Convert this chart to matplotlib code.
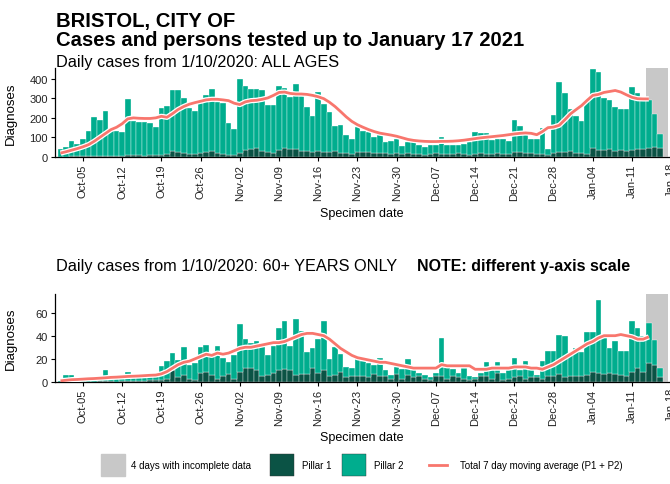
import numpy as np
import pandas as pd
import matplotlib
matplotlib.use("Agg")
import matplotlib.pyplot as plt
import matplotlib.patheffects as pe
from matplotlib.patches import Rectangle
from matplotlib.lines import Line2D

plt.rcParams['font.family'] = ['Liberation Sans', 'DejaVu Sans']

# ---------------- DATA ----------------
start_date = "2020-10-01"
n_days = 109
incomplete_days = 4

tick_dates = ["2020-10-05", "2020-10-12", "2020-10-19", "2020-10-26", "2020-11-02",
              "2020-11-09", "2020-11-16", "2020-11-23", "2020-11-30", "2020-12-07",
              "2020-12-14", "2020-12-21", "2020-12-28", "2021-01-04", "2021-01-11"]
tick_labels = ["Oct-05", "Oct-12", "Oct-19", "Oct-26", "Nov-02", "Nov-09", "Nov-16",
               "Nov-23", "Nov-30", "Dec-07", "Dec-14", "Dec-21", "Dec-28", "Jan-04", "Jan-11"]

# all ages
all_p1 = [2, 2, 3, 3, 3, 4, 5,
          5, 6, 5, 5, 6, 8, 8,
          8, 7, 8, 8, 12, 15, 32,
          28, 20, 15, 15, 18, 25, 30,
          18, 15, 12, 10, 22, 38, 42,
          45, 30, 25, 22, 35, 45, 40,
          42, 32, 30, 28, 30, 28, 25,
          30, 22, 18, 15, 25, 28, 25,
          22, 20, 18, 15, 22, 15, 18,
          15, 14, 12, 16, 18, 15, 14,
          14, 18, 15, 12, 16, 18, 15,
          16, 18, 15, 14, 28, 25, 20,
          18, 15, 14, 10, 22, 28, 25,
          30, 20, 18, 15, 45, 38, 35,
          40, 32, 35, 30, 38, 40, 42,
          48, 50, 45, 0]
all_p2 = [40, 50, 79, 65, 89, 128, 197,
          183, 230, 137, 130, 122, 287, 174,
          172, 171, 168, 147, 238, 247, 310,
          317, 280, 237, 220, 257, 293, 320,
          262, 260, 163, 135, 378, 327, 308,
          303, 310, 243, 243, 330, 310, 265,
          333, 278, 225, 182, 300, 242, 207,
          130, 143, 92, 75, 127, 107, 101,
          78, 90, 57, 69, 70, 43, 57,
          60, 48, 38, 46, 44, 89, 48,
          48, 44, 50, 63, 110, 106, 108,
          71, 72, 75, 70, 162, 135, 115,
          74, 77, 136, 31, 193, 357, 303,
          216, 192, 168, 274, 403, 399, 268,
          249, 223, 211, 216, 319, 288, 248,
          242, 170, 73, 0]
all_ma = [20, 27, 35, 43, 52, 63, 80,
          100, 120, 140, 152, 170, 195, 200,
          198, 197, 197, 200, 208, 203, 222,
          243, 258, 270, 278, 285, 292, 295,
          295, 292, 288, 275, 268, 282, 288,
          290, 295, 302, 315, 330, 332, 325,
          322, 322, 320, 315, 308, 298, 280,
          258, 232, 205, 182, 165, 152, 140,
          130, 122, 117, 112, 106, 98, 90,
          85, 82, 80, 79, 79, 80, 80,
          81, 83, 86, 90, 94, 98, 101,
          104, 107, 110, 114, 118, 121, 123,
          121, 114, 130, 150, 153, 162, 190,
          220, 242, 263, 290, 315, 320, 330,
          335, 340, 332, 318, 305, 298, 297,
          297]

# 60+ years
old_p1 = [0, 0, 0, 0, 0, 0, 0,
          1, 1, 1, 0, 1, 1, 1,
          1, 1, 2, 2, 2, 3, 10,
          4, 6, 3, 2, 8, 9, 6,
          3, 5, 7, 3, 9, 12, 12,
          10, 5, 6, 8, 10, 11, 10,
          6, 7, 7, 12, 8, 10, 5,
          6, 9, 4, 5, 5, 5, 4,
          7, 5, 5, 3, 7, 3, 6,
          4, 5, 3, 2, 5, 5, 3,
          5, 4, 3, 2, 3, 5, 5,
          3, 8, 2, 3, 4, 5, 3,
          4, 4, 3, 5, 5, 7, 4,
          5, 5, 5, 6, 9, 8, 7,
          8, 7, 6, 5, 9, 12, 9,
          16, 15, 4, 0]
old_p2 = [1, 6, 6, 1, 1, 2, 2,
          2, 9, 2, 3, 2, 8, 3,
          3, 3, 3, 4, 12, 15, 15,
          15, 24, 12, 14, 22, 23, 18,
          28, 16, 10, 20, 41, 25, 22,
          25, 26, 17, 23, 37, 42, 21,
          48, 37, 19, 17, 29, 43, 15,
          24, 15, 9, 7, 15, 13, 12,
          8, 16, 5, 3, 6, 8, 14,
          7, 3, 3, 2, 3, 33, 10,
          6, 4, 9, 3, 1, 3, 12,
          7, 9, 6, 9, 17, 5, 15,
          8, 2, 15, 22, 22, 34, 36,
          18, 24, 21, 37, 34, 63, 32,
          21, 28, 21, 22, 44, 35, 31,
          35, 21, 8, 0]
old_ma = [1, 1.5, 2, 2.2, 2.5, 2.8, 3,
          3.3, 3.6, 4, 4.2, 4.5, 4.8, 5,
          5.2, 5.5, 5.8, 6, 7, 9, 12,
          15, 17, 18, 20, 22, 24, 23,
          25, 24, 25, 27, 29, 30, 30,
          31, 32, 33, 34, 34, 35, 37,
          39, 41, 42, 42, 41, 40, 37,
          33, 29, 26, 23, 21, 20, 19,
          18, 17, 17, 16, 15, 14, 13,
          12, 12, 12, 12, 12, 15, 14,
          14, 14, 14, 14, 11, 11, 11,
          12, 12, 12, 12, 13, 13, 13,
          12, 12, 11, 13, 15, 18, 21,
          24, 27, 30, 33, 35, 38, 40,
          40, 40, 41, 40, 39, 37, 37,
          39]

# ---------------- STYLE ----------------
col_p1 = "#0B5345"
col_p2 = "#00AD8E"
col_ma = "#F8766D"
col_grey = "#C8C8C8"
col_txt = "#222222"

W, H = 670, 485
fig = plt.figure(figsize=(W / 100, H / 100), dpi=100)


def fx(px):
    return px / W


def fy(py):
    return 1 - py / H


dates = pd.date_range(start_date, periods=n_days)
x = np.arange(n_days)
tick_pos = [(pd.Timestamp(d) - dates[0]).days for d in tick_dates]


def panel(ax, p1, p2, ma, ymax, yticks):
    ax.axvspan(n_days - incomplete_days - 0.5, n_days - 0.5, color=col_grey, lw=0, zorder=0)
    ax.bar(x, p1, width=1.0, color=col_p1, edgecolor="white", linewidth=0.25, zorder=2)
    ax.bar(x, p2, width=1.0, bottom=p1, color=col_p2, edgecolor="white", linewidth=0.25, zorder=2)
    ax.plot(np.arange(len(ma)), ma, color=col_ma, lw=2.0, zorder=3, solid_capstyle="butt",
            path_effects=[pe.Stroke(linewidth=3.8, foreground="white"), pe.Normal()])
    ax.set_xlim(-0.98, 108.6)
    ax.set_ylim(0, ymax)
    ax.set_yticks(yticks)
    ax.set_xticks(tick_pos)
    ax.set_xticklabels(tick_labels, rotation=90, fontsize=8, color=col_txt)
    ax.tick_params(axis="y", labelsize=8, labelcolor=col_txt, length=3, pad=2)
    ax.tick_params(axis="x", length=3, pad=2)
    for s in ["top", "right"]:
        ax.spines[s].set_visible(False)
    for s in ["left", "bottom"]:
        ax.spines[s].set_linewidth(0.9)
    ax.set_ylabel("Diagnoses", fontsize=9.5)
    ax.yaxis.set_label_coords((17 - 55) / 614, 0.5)
    ax.set_xlabel("Specimen date", fontsize=9)
    ax.xaxis.set_label_coords(0.5, -0.56)
    # next week's label, cut off at the right edge as in the original
    ax.text(109, -0.05, "Jan-18", rotation=90, fontsize=8, color=col_txt,
            ha="center", va="top", transform=ax.get_xaxis_transform(), clip_on=False)


ax1 = fig.add_axes([fx(55), fy(158), fx(669) - fx(55), fy(69) - fy(158)])
panel(ax1, all_p1, all_p2, all_ma, 455, [0, 100, 200, 300, 400])

ax2 = fig.add_axes([fx(55), fy(383), fx(669) - fx(55), fy(295) - fy(383)])
panel(ax2, old_p1, old_p2, old_ma, 76, [0, 20, 40, 60])

# titles
fig.text(fx(56), fy(27), "BRISTOL, CITY OF", fontsize=14.6, fontweight="bold", va="baseline")
fig.text(fx(56), fy(46), "Cases and persons tested up to January 17 2021", fontsize=14.6,
         fontweight="bold", va="baseline")
fig.text(fx(56), fy(62), "Daily cases from 1/10/2020: ALL AGES", fontsize=11.7, va="center")
fig.text(fx(56), fy(267), "Daily cases from 1/10/2020: 60+ YEARS ONLY", fontsize=11.7, va="center")
fig.text(fx(417), fy(267), "NOTE: different y-axis scale", fontsize=11.5, fontweight="bold", va="center")

# legend
ly = 466
fig.add_artist(Rectangle((fx(101), fy(ly + 11)), fx(24), fy(0) - fy(22), color=col_grey))
fig.text(fx(131), fy(ly), "4 days with incomplete data", fontsize=7, va="center")
fig.add_artist(Rectangle((fx(270), fy(ly + 11)), fx(24), fy(0) - fy(22), facecolor=col_p1,
                         edgecolor="#333333", lw=0.3))
fig.text(fx(302), fy(ly), "Pillar 1", fontsize=7, va="center")
fig.add_artist(Rectangle((fx(342), fy(ly + 11)), fx(24), fy(0) - fy(22), facecolor=col_p2,
                         edgecolor="#333333", lw=0.3))
fig.text(fx(374), fy(ly), "Pillar 2", fontsize=7, va="center")
fig.add_artist(Line2D([fx(429), fx(447)], [fy(ly), fy(ly)], color=col_ma, lw=2))
fig.text(fx(460), fy(ly), "Total 7 day moving average (P1 + P2)", fontsize=7, va="center")

fig.savefig("out.png", dpi=100)
